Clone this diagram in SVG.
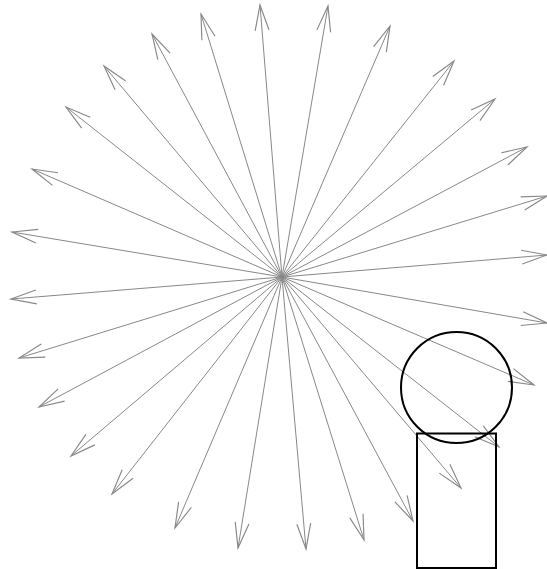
<svg xmlns="http://www.w3.org/2000/svg" width="547" height="569" viewBox="0 0 547 569">
<style>
.c line{stroke:#888;stroke-width:1;fill:none;marker-end:url(#ah)}
.n{fill:none;stroke:#000;stroke-width:2}
</style>
<defs>
<marker id="ah" markerUnits="userSpaceOnUse" markerWidth="30" markerHeight="20" viewBox="-24 -8 26 16" refX="0" refY="0" orient="auto">
<path d="M-22,-6 L0,0 L-22,6" fill="none" stroke="#888" stroke-width="1"/>
</marker>
</defs>
<rect width="547" height="569" fill="#fff"/>
<g class="c" id="connectors">
<line x1="282" y1="277" x2="260" y2="5"/>
<line x1="282" y1="277" x2="328" y2="6"/>
<line x1="282" y1="277" x2="390" y2="26"/>
<line x1="282" y1="277" x2="454" y2="61"/>
<line x1="282" y1="277" x2="495" y2="99"/>
<line x1="282" y1="277" x2="527" y2="147"/>
<line x1="282" y1="277" x2="547" y2="196"/>
<line x1="282" y1="277" x2="547" y2="255"/>
<line x1="282" y1="277" x2="547" y2="323"/>
<line x1="282" y1="277" x2="534" y2="385"/>
<line x1="282" y1="277" x2="499" y2="447"/>
<line x1="282" y1="277" x2="461" y2="488"/>
<line x1="282" y1="277" x2="413" y2="521"/>
<line x1="282" y1="277" x2="364" y2="540"/>
<line x1="282" y1="277" x2="306" y2="549"/>
<line x1="282" y1="277" x2="238" y2="548"/>
<line x1="282" y1="277" x2="175" y2="528"/>
<line x1="282" y1="277" x2="112" y2="494"/>
<line x1="282" y1="277" x2="71" y2="456"/>
<line x1="282" y1="277" x2="39" y2="407"/>
<line x1="282" y1="277" x2="19" y2="358"/>
<line x1="282" y1="277" x2="11" y2="299"/>
<line x1="282" y1="277" x2="12" y2="232"/>
<line x1="282" y1="277" x2="32" y2="169"/>
<line x1="282" y1="277" x2="66" y2="107"/>
<line x1="282" y1="277" x2="104" y2="66"/>
<line x1="282" y1="277" x2="152" y2="34"/>
<line x1="282" y1="277" x2="201" y2="14"/>
</g>
<g id="circle"><circle class="n" cx="456.5" cy="387.5" r="55.5"/></g>
<g id="box"><rect class="n" x="417" y="433.5" width="79" height="134.5"/></g>
</svg>
